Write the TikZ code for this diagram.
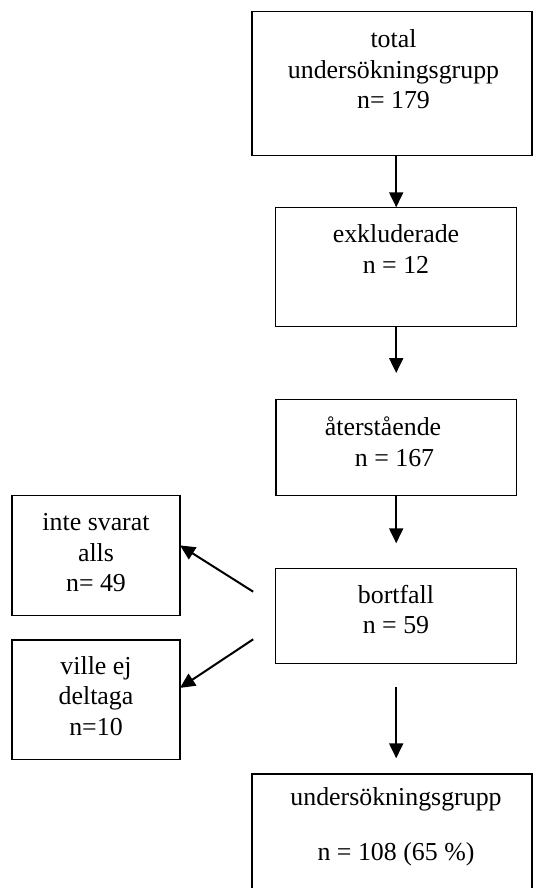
\documentclass[tikz,border=0pt]{standalone}
\usepackage{fontspec}
\setmainfont{Liberation Serif}
\usetikzlibrary{arrows.meta}
\tikzset{
  box/.style={draw, line width=1pt, inner sep=0pt, outer sep=0pt},
  lbl/.style={anchor=base, inner sep=0pt, font=\fontsize{19.4pt}{23pt}\selectfont},
  arr/.style={line width=1.5pt, -{Triangle[length=11.25pt, width=10.5pt]}}
}
\begin{document}
\begin{tikzpicture}[x=0.75pt, y=-0.75pt]
\useasboundingbox (0,0) rectangle (533,888);
\clip (0,0) rectangle (533,888);
% boxes
\node[box, minimum width=280*0.75pt, minimum height=144*0.75pt] (b1) at (392,83.7) {};
\node[box, minimum width=241*0.75pt, minimum height=119.4*0.75pt] (b2) at (396.2,267) {};
\node[box, minimum width=240.5*0.75pt, minimum height=96.4*0.75pt] (b3) at (396.2,447.5) {};
\node[box, minimum width=241*0.75pt, minimum height=95*0.75pt] (b4) at (396.2,615.8) {};
\node[box, minimum width=280*0.75pt, minimum height=176*0.75pt] (b5) at (392,862) {};
\node[box, minimum width=168*0.75pt, minimum height=120*0.75pt] (l1) at (96,555.7) {};
\node[box, minimum width=168*0.75pt, minimum height=119.3*0.75pt] (l2) at (96,699.7) {};
% texts
\node[lbl] (t1a) at (393.5,47.7) {total};
\node[lbl] (t1b) at (393.5,78.3) {undersökningsgrupp};
\node[lbl] (t1c) at (393.5,108.3) {n= 179};
\node[lbl] (t2a) at (396,242.3) {exkluderade};
\node[lbl] (t2b) at (396,273.3) {n = 12};
\node[lbl] (t3a) at (383,435) {återstående};
\node[lbl] (t3b) at (394.5,466) {n = 167};
\node[lbl] (t4a) at (396,603.3) {bortfall};
\node[lbl] (t4b) at (396,633.3) {n = 59};
\node[lbl] (t5a) at (396,805) {undersökningsgrupp};
\node[lbl] (t5b) at (396,860) {n = 108 (65 \%)};
\node[lbl] (tl1a) at (96,530.7) {inte svarat};
\node[lbl] (tl1b) at (96,561) {alls};
\node[lbl] (tl1c) at (96,591.7) {n= 49};
\node[lbl] (tl2a) at (96,674.3) {ville ej};
\node[lbl] (tl2b) at (96,704) {deltaga};
\node[lbl] (tl2c) at (96,735) {n=10};
% free ends
\coordinate (c2) at (396.2,373);
\coordinate (c3) at (396.2,543.3);
\coordinate (c4s) at (396.2,686.7);
\coordinate (c4e) at (396.2,758.3);
\coordinate (d1) at (253.2,591.7);
\coordinate (d2) at (253.2,639.3);
% connectors
\draw[arr] (b1.south -| b2.north) -- (b2.north);
\draw[arr] (b2.south) -- (c2);
\draw[arr] (b3.south) -- (c3);
\draw[arr] (c4s) -- (c4e);
\draw[arr] (d1) -- (l1.7.3);
\draw[arr] (d2) -- (l2.8.8);
\end{tikzpicture}
\end{document}
